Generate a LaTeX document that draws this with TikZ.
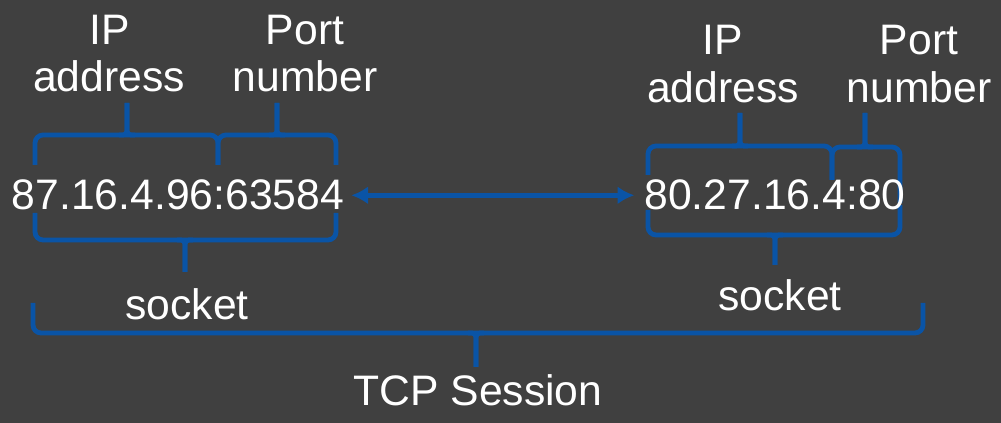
\documentclass[tikz,border=0pt]{standalone}
\usepackage{fontspec}
\setmainfont{Liberation Sans}
\usetikzlibrary{arrows.meta}
\definecolor{bg}{RGB}{64,64,64}
\definecolor{brc}{RGB}{10,84,166}
\begin{document}
\begin{tikzpicture}[x=0.75pt,y=-0.75pt,
  lbl/.style={text=white,inner sep=0pt,anchor=base,font=\fontsize{32}{38}\selectfont},
  brace/.style={draw=brc,line width=3.6pt,rounded corners=6pt,line join=round},
  tick/.style={draw=brc,line width=3.6pt,rounded corners=3pt},
  conn/.style={draw=brc,line width=3.3pt,{Latex[length=12.5pt,width=13.5pt]}-{Latex[length=12.5pt,width=13.5pt]}}]
\fill[bg] (0,0) rectangle (1001,423);
\useasboundingbox (0,0) rectangle (1001,423);
% left top braces
\draw[brace] (35,165) |- (218,135) -- (218,165);
\draw[brace] (218,165) |- (336,135) -- (336,165);
\draw[tick] (119,135) -| (127,103);
\draw[tick] (135,135) -| (127,103);
\draw[tick] (269,135) -| (277,103);
\draw[tick] (285,135) -| (277,103);
% left bottom brace
\draw[brace] (35,213) |- (336,240) -- (336,213);
\draw[tick] (177,240) -| (185,272);
\draw[tick] (193,240) -| (185,272);
% right top braces
\draw[brace] (648,175) |- (832,146) -- (832,180);
\draw[brace] (832,180) |- (900,147) -- (900,203);
\draw[tick] (732,146) -| (740,113);
\draw[tick] (748,146) -| (740,113);
\draw[tick] (857,147) -| (865,113);
\draw[tick] (873,147) -| (865,113);
% right bottom brace
\draw[brace] (648,210) |- (900,235) -- (900,205);
\draw[tick] (767,235) -| (775,265);
\draw[tick] (783,235) -| (775,265);
% TCP brace
\draw[brace] (33,303) |- (923,333) -- (923,303);
\draw[tick] (468,333) -| (476,367);
\draw[tick] (484,333) -| (476,367);
% left labels
\node[lbl] (ipL) at (110,45) {IP};
\node[lbl] (addrL) at (109,92) {address};
\node[lbl] (portL) at (305,45) {Port};
\node[lbl] (numL) at (305,92) {number};
\node[lbl] (sockL) at (178,210) {87.16.4.96:63584};
\node[lbl] (sockLlbl) at (187,320) {socket};
% right labels
\node[lbl] (ipR) at (723,55) {IP};
\node[lbl] (addrR) at (723,103) {address};
\node[lbl] (portR) at (919,55) {Port};
\node[lbl] (numR) at (919,103) {number};
\node[lbl] (sockR) at (775,210) {80.27.16.4:80};
\node[lbl] (sockRlbl) at (780,311) {socket};
\node[lbl] (tcp) at (478,406) {TCP Session};
% connector
\draw[conn] ([xshift=5.25pt]sockL.east) -- ([xshift=-7.5pt]sockR.west);
\end{tikzpicture}
\end{document}
